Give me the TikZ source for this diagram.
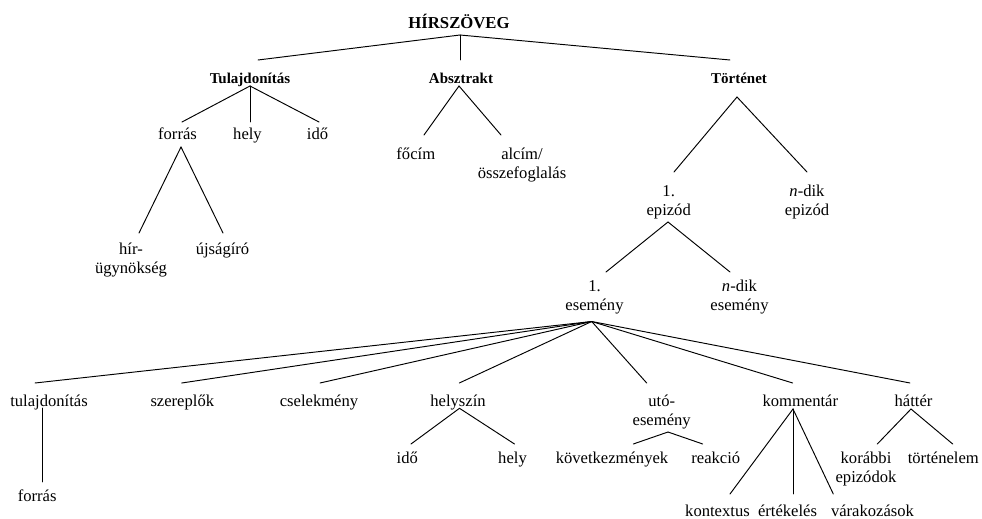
\documentclass[tikz,border=0pt]{standalone}
\usepackage{fontspec}
\setmainfont{Liberation Serif}
\begin{document}
\begin{tikzpicture}[x=1pt,y=-1pt,
  lbl/.style={inner sep=0pt,font=\fontsize{16.6}{19}\selectfont},
  one/.style={lbl,text height=13.3pt,text depth=5.7pt},
  two/.style={lbl,align=center},
  head/.style={inner sep=0pt,font=\fontsize{15}{18}\selectfont\bfseries,text height=13.3pt,text depth=5.7pt},
  top/.style={inner sep=0pt,font=\fontsize{16.7}{20}\selectfont\bfseries,text height=13.3pt,text depth=5.7pt},
  branch/.style={line width=0.95pt,line cap=round}]
\useasboundingbox (0,0) rectangle (982,519);

% ---- labels ----
\node[top]  (root) at (459,24.5) {HÍRSZÖVEG};
\node[head] (tul)  at (250,79.5) {Tulajdonítás};
\node[head] (abs)  at (461,79.5) {Absztrakt};
\node[head] (tor)  at (739,79.5) {Történet};

\node[one] (forras1) at (177.5,135.7) {forrás};
\node[one] (hely1)   at (247.5,135.7) {hely};
\node[one] (ido1)    at (317.5,135.7) {idő};
\node[two] (hir)     at (131,259.7)   {\strut hír-\\\strut ügynökség};
\node[one] (ujsag)   at (222.5,250.7) {újságíró};

\node[one] (focim) at (415.8,155.7) {főcím};
\node[two] (alcim) at (522,165.2)   {\strut alcím/\\\strut összefoglalás};

\node[two] (ep1) at (668.7,202.2) {\strut 1.\\\strut epizód};
\node[two] (epn) at (807,202.2)   {\strut\textit{n}-dik\\\strut epizód};
\node[two] (es1) at (594.5,297.2) {\strut 1.\\\strut esemény};
\node[two] (esn) at (739.5,297.2) {\strut\textit{n}-dik\\\strut esemény};

\node[one] (tulaj2) at (49,402.2)    {tulajdonítás};
\node[one] (szer)   at (182.3,402.2) {szereplők};
\node[one] (csel)   at (319,402.2)   {cselekmény};
\node[one] (hszin)  at (458,402.2)   {helyszín};
\node[two] (uto)    at (661.7,412.2) {\strut utó-\\\strut esemény};
\node[one] (komm)   at (800.3,402.2) {kommentár};
\node[one] (hatter) at (913.5,402.2) {háttér};

\node[one] (forras2) at (37.2,497.7) {forrás};
\node[one] (ido2)    at (407.3,459.7) {idő};
\node[one] (hely2)   at (512.5,459.7) {hely};
\node[one] (kovet)   at (612,459.7)   {következmények};
\node[one] (reakcio) at (715.8,459.7) {reakció};
\node[one] (kontextus)  at (717.5,512.7) {kontextus};
\node[one] (ertekeles)  at (787.5,512.7) {értékelés};
\node[one] (varak)      at (872.5,512.7) {várakozások};
\node[two] (korabbi)    at (866,469)     {\strut korábbi\\\strut epizódok};
\node[one] (tortenelem) at (943.3,459.7) {történelem};

% ---- branch points under each parent ----
\coordinate (root-j)    at (460,35);
\coordinate (tul-j)     at (250,86);
\coordinate (forras1-j) at (181,147);
\coordinate (abs-j)     at (459,86);
\coordinate (tor-j)     at (737,97);
\coordinate (ep1-j)     at (668,222);
\coordinate (es1-j)     at (591.7,321.5);
\coordinate (tulaj2-j)  at (42,408);
\coordinate (hszin-j)   at (459.5,408.3);
\coordinate (uto-j)     at (668,432);
\coordinate (komm-j)    at (793,409);
\coordinate (hatter-j)  at (911,409);

% ---- attachment points above each child ----
\coordinate (tul-t) at (258,60);
\coordinate (abs-t) at (460,60);
\coordinate (tor-t) at (730,60);
\coordinate (forras1-t) at (182,122);
\coordinate (hely1-t)   at (250,122);
\coordinate (ido1-t)    at (319,122);
\coordinate (hir-t)     at (139,233);
\coordinate (ujsag-t)   at (223,233);
\coordinate (focim-t)   at (424,135);
\coordinate (alcim-t)   at (501,135);
\coordinate (ep1-t)     at (674,172);
\coordinate (epn-t)     at (807,172);
\coordinate (es1-t)     at (606,272);
\coordinate (esn-t)     at (730,272);
\coordinate (tulaj2-t)  at (35,383);
\coordinate (szer-t)    at (181.7,383);
\coordinate (csel-t)    at (320,383);
\coordinate (hszin-t)   at (459.3,383);
\coordinate (uto-t)     at (646.7,383);
\coordinate (komm-t)    at (792.7,383);
\coordinate (hatter-t)  at (910,383);
\coordinate (forras2-t) at (42,482);
\coordinate (ido2-t)    at (411,444);
\coordinate (hely2-t)   at (514.5,444);
\coordinate (kovet-t)   at (633.3,444);
\coordinate (reakcio-t) at (702.7,444);
\coordinate (kontextus-t)  at (730,494);
\coordinate (ertekeles-t)  at (793,494);
\coordinate (varak-t)      at (833.3,494);
\coordinate (korabbi-t)    at (877.3,444);
\coordinate (tortenelem-t) at (952.7,444);

% ---- tree branches ----
\foreach \p/\c in {root/tul,root/abs,root/tor,
  tul/forras1,tul/hely1,tul/ido1,forras1/hir,forras1/ujsag,
  abs/focim,abs/alcim,tor/ep1,tor/epn,ep1/es1,ep1/esn,
  es1/tulaj2,es1/szer,es1/csel,es1/hszin,es1/uto,es1/komm,es1/hatter,
  tulaj2/forras2,hszin/ido2,hszin/hely2,uto/kovet,uto/reakcio,
  komm/kontextus,komm/ertekeles,komm/varak,hatter/korabbi,hatter/tortenelem}
  \draw[branch] (\p-j) -- (\c-t);
\end{tikzpicture}
\end{document}
